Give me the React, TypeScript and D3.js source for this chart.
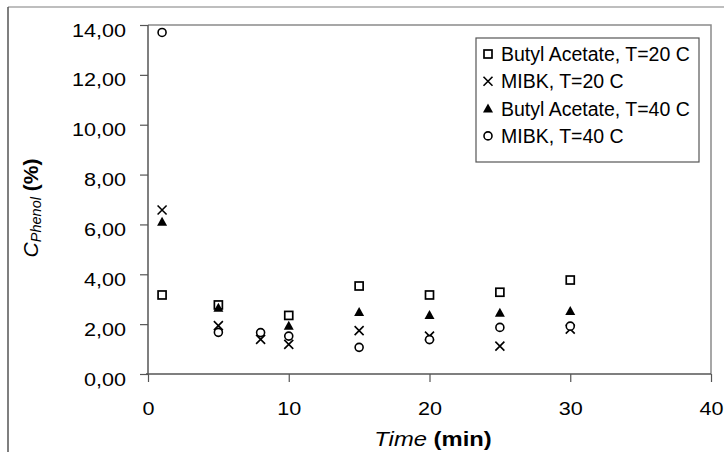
import React, {useRef, useEffect} from 'react'
import * as d3 from 'd3'

// values
const baTime20 = [1, 5, 10, 15, 20, 25, 30]
const baConc20 = [3.17, 2.77, 2.35, 3.53, 3.17, 3.28, 3.77]

const mibkTime20 = [1, 5, 8, 10, 15, 20, 25, 30]
const mibkConc20 = [6.58, 1.94, 1.39, 1.19, 1.74, 1.52, 1.12, 1.8]

const baTime40 = [1, 5, 10, 15, 20, 25, 30]
const baConc40 = [6.11, 2.66, 1.94, 2.49, 2.37, 2.46, 2.53]

const mibkTime40 = [1, 5, 8, 10, 15, 20, 25, 30]
const mibkConc40 = [13.7, 1.67, 1.66, 1.52, 1.07, 1.38, 1.87, 1.92]

const seriesNames = ['Butyl Acetate, T=20 C', 'MIBK, T=20 C', 'Butyl Acetate, T=40 C', 'MIBK, T=40 C']
const seriesMarkers = ['square', 'x', 'triangle', 'circle']

const xTicks = [0, 10, 20, 30, 40]
const yTicks = [0, 2, 4, 6, 8, 10, 12, 14]

const FONT = '"Liberation Sans", Arial, Helvetica, sans-serif'

export default function App() {
	const ref = useRef<SVGSVGElement>(null)

	const layout = {width: 724, height: 452, left: 148, right: 711, top: 25, bottom: 374}

	useEffect(() => {
		const svg = d3.select(ref.current)
		svg.selectAll('*').remove()

		const xScale = d3.scaleLinear().domain([0, 40]).range([layout.left, layout.right])
		const yScale = d3.scaleLinear().domain([0, 14]).range([layout.bottom, layout.top])

		// outer chart frame
		svg.append('line').attr('x1', 8).attr('x2', 724).attr('y1', 7).attr('y2', 7)
			.attr('stroke', '#a8a8a8').attr('stroke-width', 1.5)
		svg.append('line').attr('x1', 8).attr('x2', 8).attr('y1', 7).attr('y2', 452)
			.attr('stroke', '#555').attr('stroke-width', 1.5)

		// plot area border (top/right)
		svg.append('path')
			.attr('d', `M${layout.left},${layout.top}H${layout.right}V${layout.bottom}`)
			.attr('fill', 'none').attr('stroke', '#8a8a8a').attr('stroke-width', 1.5)

		// y axis
		const gy = svg.append('g').attr('transform', `translate(${layout.left},0)`)
		gy.call(d3.axisLeft(yScale).tickValues(yTicks).tickSize(8)
			.tickFormat(d => d3.format('.2f')(d as number).replace('.', ',')))
		// x axis
		const gx = svg.append('g').attr('transform', `translate(0,${layout.bottom})`)
		gx.call(d3.axisBottom(xScale).tickValues(xTicks).tickSize(8)
			.tickFormat(d3.format('d')))

		svg.selectAll('.domain').attr('stroke', '#555').attr('stroke-width', 1.5)
		svg.selectAll('.tick line').attr('stroke', '#555').attr('stroke-width', 1.2)
		svg.selectAll('.tick text').attr('font-family', FONT).attr('font-size', 18).attr('fill', '#000')
			.attr('x', 0).attr('y', 0).attr('dy', null)
		// the original labels are a bit wider than the font, so stretch them
		gy.selectAll('.tick text').attr('text-anchor', 'end').attr('transform', 'translate(-22,11) scale(1.2,1)')
		gx.selectAll('.tick text').attr('text-anchor', 'middle').attr('transform', 'translate(0,41) scale(1.2,1)')
		gy.select('.domain').attr('d', `M-0,${layout.bottom}V${layout.top}`)
		gx.select('.domain').attr('d', `M${layout.left - 2},0H${layout.right}`)

		// markers
		const drawMarker = (g, kind, x, y) => {
			if (kind === 'square') {
				g.append('rect').attr('x', x - 4).attr('y', y - 4).attr('width', 8).attr('height', 8)
					.attr('fill', '#fff').attr('stroke', '#000').attr('stroke-width', 1.7)
			} else if (kind === 'x') {
				g.append('path').attr('d', `M${x - 4.5},${y - 4.5}L${x + 4.5},${y + 4.5}M${x - 4.5},${y + 4.5}L${x + 4.5},${y - 4.5}`)
					.attr('stroke', '#000').attr('stroke-width', 1.6).attr('fill', 'none')
			} else if (kind === 'triangle') {
				g.append('path').attr('d', `M${x},${y - 5}L${x + 5},${y + 4}L${x - 5},${y + 4}Z`)
					.attr('fill', '#000')
			} else {
				g.append('circle').attr('cx', x).attr('cy', y).attr('r', 4)
					.attr('fill', '#fff').attr('stroke', '#000').attr('stroke-width', 1.6)
			}
		}

		const series = [
			{t: baTime20, c: baConc20},
			{t: mibkTime20, c: mibkConc20},
			{t: baTime40, c: baConc40},
			{t: mibkTime40, c: mibkConc40},
		]

		const points = svg.append('g')
		series.forEach((s, i) => {
			s.t.forEach((t, j) => drawMarker(points, seriesMarkers[i], xScale(t), yScale(s.c[j])))
		})

		// legend
		const legend = svg.append('g')
		legend.append('rect').attr('x', 476).attr('y', 38).attr('width', 223).attr('height', 124)
			.attr('fill', '#fff').attr('stroke', '#555').attr('stroke-width', 1.2)
		seriesNames.forEach((name, i) => {
			const cy = 54 + i * 27.3
			drawMarker(legend, seriesMarkers[i], 488, cy)
			legend.append('text').attr('x', 501).attr('y', cy + 7)
				.attr('font-family', FONT).attr('font-size', 19.5).text(name)
		})

		// axis titles
		const xt = svg.append('text').attr('transform', 'translate(433,446) scale(1.22,1)').attr('text-anchor', 'middle')
			.attr('font-family', FONT).attr('font-size', 19.5)
		xt.append('tspan').attr('font-style', 'italic').text('Time')
		xt.append('tspan').attr('font-weight', 'bold').text(' (min)')

		const yt = svg.append('text').attr('transform', 'translate(38,208) rotate(-90)')
			.attr('text-anchor', 'middle').attr('font-family', FONT).attr('font-size', 21)
		yt.append('tspan').attr('font-style', 'italic').text('C')
		yt.append('tspan').attr('font-style', 'italic').attr('font-size', 14.5).attr('dy', 3).text('Phenol')
		yt.append('tspan').attr('font-weight', 'bold').attr('dy', -3).text(' (%)')
	}, [])

	return (
		<div style={{position: 'absolute', left: 0, top: 0}}>
			<svg width={layout.width} height={layout.height} ref={ref} style={{display: 'block', background: '#fff'}} />
		</div>
	)
}
